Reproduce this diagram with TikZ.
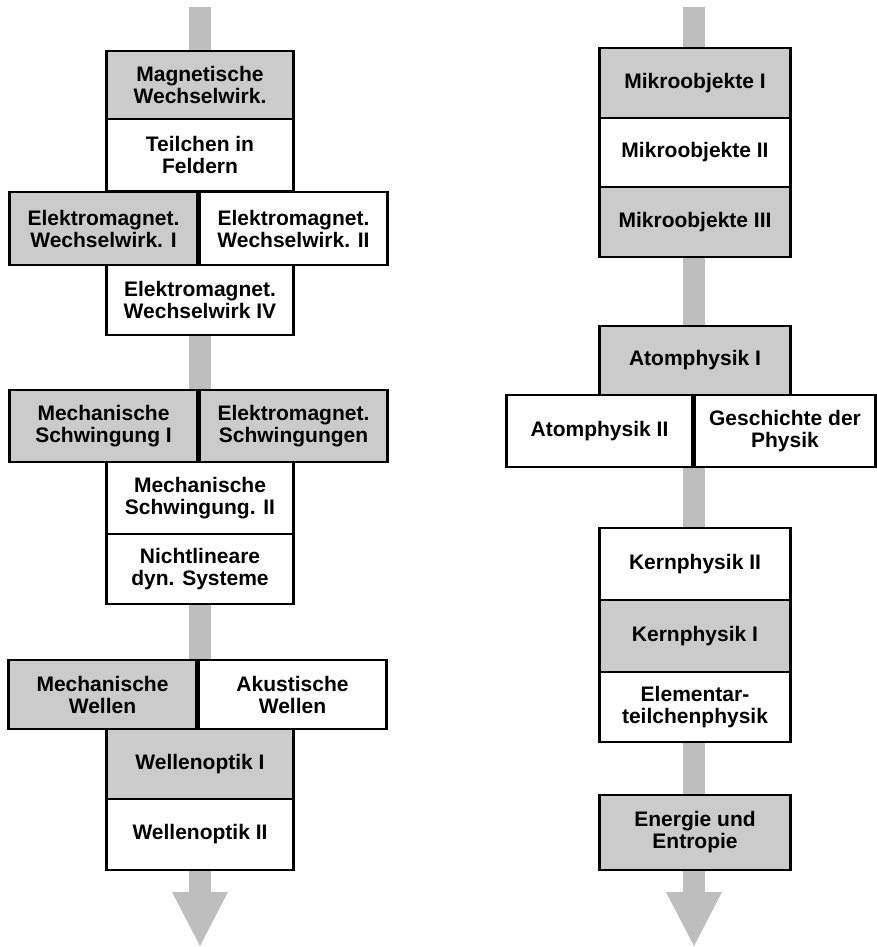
\documentclass[tikz,border=0pt]{standalone}
\usepackage{fontspec}
\setmainfont{Liberation Sans}
\usetikzlibrary{arrows.meta}
\definecolor{barg}{HTML}{BEBEBE}
\definecolor{boxg}{HTML}{CBCBCB}
\tikzset{
  box/.style={draw=black, line width=2.8pt, rectangle, inner sep=0pt, align=center,
    font=\fontsize{21}{22}\selectfont\bfseries, text=black},
  gbox/.style={box, fill=boxg},
  wbox/.style={box, fill=white},
  narrow/.style={minimum width=187pt},
  halfw/.style={minimum width=188pt},
  flowbar/.style={draw=barg, line width=22pt, -{Triangle[length=54pt,width=56pt,line width=0pt]}}
}
\begin{document}
\begin{tikzpicture}[x=1pt,y=-1pt]
\useasboundingbox (0,0) rectangle (876,947);
% bars
\coordinate (topL) at (200,7);
\coordinate (endL) at (200,946);
\coordinate (topR) at (694,7);
\coordinate (endR) at (694,946);
\draw[flowbar] (topL) -- (endL);
\draw[flowbar] (topR) -- (endR);
% left column
\node[gbox, narrow, minimum height=68pt] (mag) at (200,85) {Magnetische\\Wechselwirk.};
\node[wbox, narrow, minimum height=72pt] (teil) at (200,155) {Teilchen in\\Feldern};
\node[gbox, halfw, minimum height=73pt] (ew1) at (103.5,228.5) {Elektromagnet.\\Wechselwirk. I};
\node[wbox, halfw, minimum height=73pt] (ew2) at (293.5,228.5) {Elektromagnet.\\Wechselwirk. II};
\node[wbox, narrow, minimum height=70pt] (ew4) at (200,300) {Elektromagnet.\\Wechselwirk IV};
\node[gbox, halfw, minimum height=72pt] (ms1) at (103.5,426) {Mechanische\\Schwingung I};
\node[gbox, halfw, minimum height=72pt] (es) at (293.5,426) {Elektromagnet.\\Schwingungen};
\node[wbox, narrow, minimum height=72pt] (ms2) at (200,498) {Mechanische\\Schwingung. II};
\node[wbox, narrow, minimum height=70pt] (nl) at (200,569) {Nichtlineare\\dyn. Systeme};
\node[gbox, halfw, minimum height=69pt] (mw) at (102.5,694.5) {Mechanische\\Wellen};
\node[wbox, halfw, minimum height=69pt] (aw) at (292.5,694.5) {Akustische\\Wellen};
\node[gbox, narrow, minimum height=70pt] (wo1) at (200,764) {Wellenoptik I};
\node[wbox, narrow, minimum height=71pt] (wo2) at (200,834.5) {Wellenoptik II};
% right column
\node[gbox, minimum width=191pt, minimum height=70pt] (mo1) at (695,83) {Mikroobjekte I};
\node[wbox, minimum width=191pt, minimum height=69pt] (mo2) at (695,152.5) {Mikroobjekte II};
\node[gbox, minimum width=191pt, minimum height=70pt] (mo3) at (695,222) {Mikroobjekte III};
\node[gbox, minimum width=191pt, minimum height=69pt] (ap1) at (695,360.5) {Atomphysik I};
\node[wbox, minimum width=186pt, minimum height=72pt] (ap2) at (599.5,431) {Atomphysik II};
\node[wbox, minimum width=181pt, minimum height=72pt] (gp) at (785,431) {Geschichte der\\Physik};
\node[wbox, minimum width=191pt, minimum height=72pt] (kp2) at (695,564) {Kernphysik II};
\node[gbox, minimum width=191pt, minimum height=72pt] (kp1) at (695,636) {Kernphysik I};
\node[wbox, minimum width=191pt, minimum height=70pt] (et) at (695,707) {Elementar-\\teilchenphysik};
\node[gbox, minimum width=191pt, minimum height=75pt] (ee) at (695,832.5) {Energie und\\Entropie};
\end{tikzpicture}
\end{document}
